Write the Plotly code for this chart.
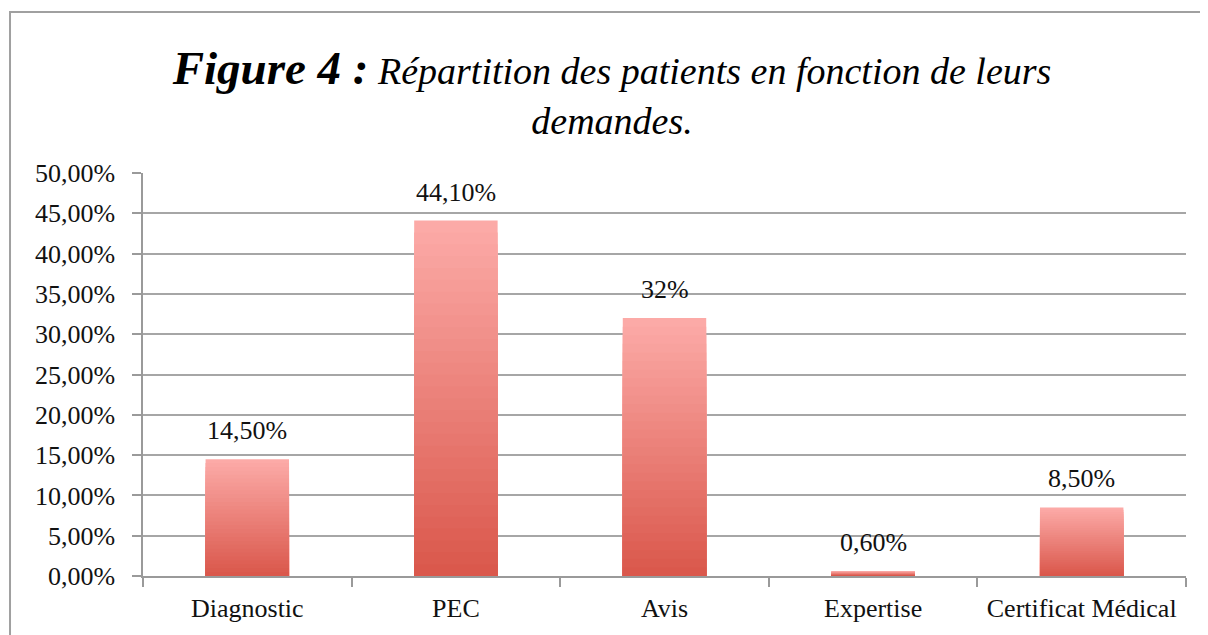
import plotly.graph_objects as go

categories = ["Diagnostic", "PEC", "Avis", "Expertise", "Certificat Médical"]
values = [14.5, 44.1, 32.0, 0.6, 8.5]
value_labels = ["14,50%", "44,10%", "32%", "0,60%", "8,50%"]
y_ticks = [0, 5, 10, 15, 20, 25, 30, 35, 40, 45, 50]

FONT = "Liberation Serif"
top_rgb = (252, 170, 167)
bot_rgb = (218, 88, 76)
N = 30

fig = go.Figure()
for k in range(N):
    t = k / (N - 1)
    c = tuple(round(top_rgb[i] + (bot_rgb[i] - top_rgb[i]) * t) for i in range(3))
    frac = (N - k) / N
    fig.add_trace(go.Bar(
        x=categories,
        y=[v * frac for v in values],
        marker=dict(color="rgb(%d,%d,%d)" % c, line=dict(width=0)),
        width=0.4,
        hoverinfo="skip" if k else None,
        showlegend=False,
    ))

annotations = [
    dict(x=cat, y=v, text=lab, showarrow=False, xref="x", yref="y",
         yanchor="bottom", yshift=12,
         font=dict(family=FONT, size=26, color="#111"))
    for cat, v, lab in zip(categories, values, value_labels)
]

fig.update_layout(
    width=1208, height=635,
    barmode="overlay",
    paper_bgcolor="white", plot_bgcolor="white",
    margin=dict(l=135, r=30, t=165, b=67),
    font=dict(family=FONT, size=26, color="#111"),
    title=dict(
        text="<b><span style='font-size:47px'>Figure 4 :</span></b> Répartition des patients en fonction de leurs<br>demandes.",
        x=0.5, xanchor="center", y=0.88, yanchor="top", yref="container",
        font=dict(family=FONT, size=38, color="#000", style="italic"),
    ),
    xaxis=dict(
        showline=True, linecolor="#9a9a9a", linewidth=1.5,
        ticks="outside", tickson="boundaries", ticklen=9, tickcolor="#9a9a9a", tickwidth=1.5,
        tickfont=dict(size=26), showgrid=False, ticklabelstandoff=8,
    ),
    yaxis=dict(
        range=[0, 50], tickvals=y_ticks,
        ticktext=["%s%%" % ("%.2f" % v).replace(".", ",") for v in y_ticks],
        showline=True, linecolor="#9a9a9a", linewidth=1.5,
        ticks="outside", ticklen=9, tickcolor="#9a9a9a", tickwidth=1.5,
        showgrid=True, gridcolor="#a6a6a6", gridwidth=1.5,
        tickfont=dict(size=26), zeroline=False, ticklabelstandoff=12,
    ),
    annotations=annotations,
    shapes=[dict(type="rect", xref="paper", yref="paper",
                 x0=-0.1275, x1=1.1, y0=-0.4, y1=1.3995,
                 line=dict(color="#a0a0a0", width=2))],
)

fig.write_html("out.html")
